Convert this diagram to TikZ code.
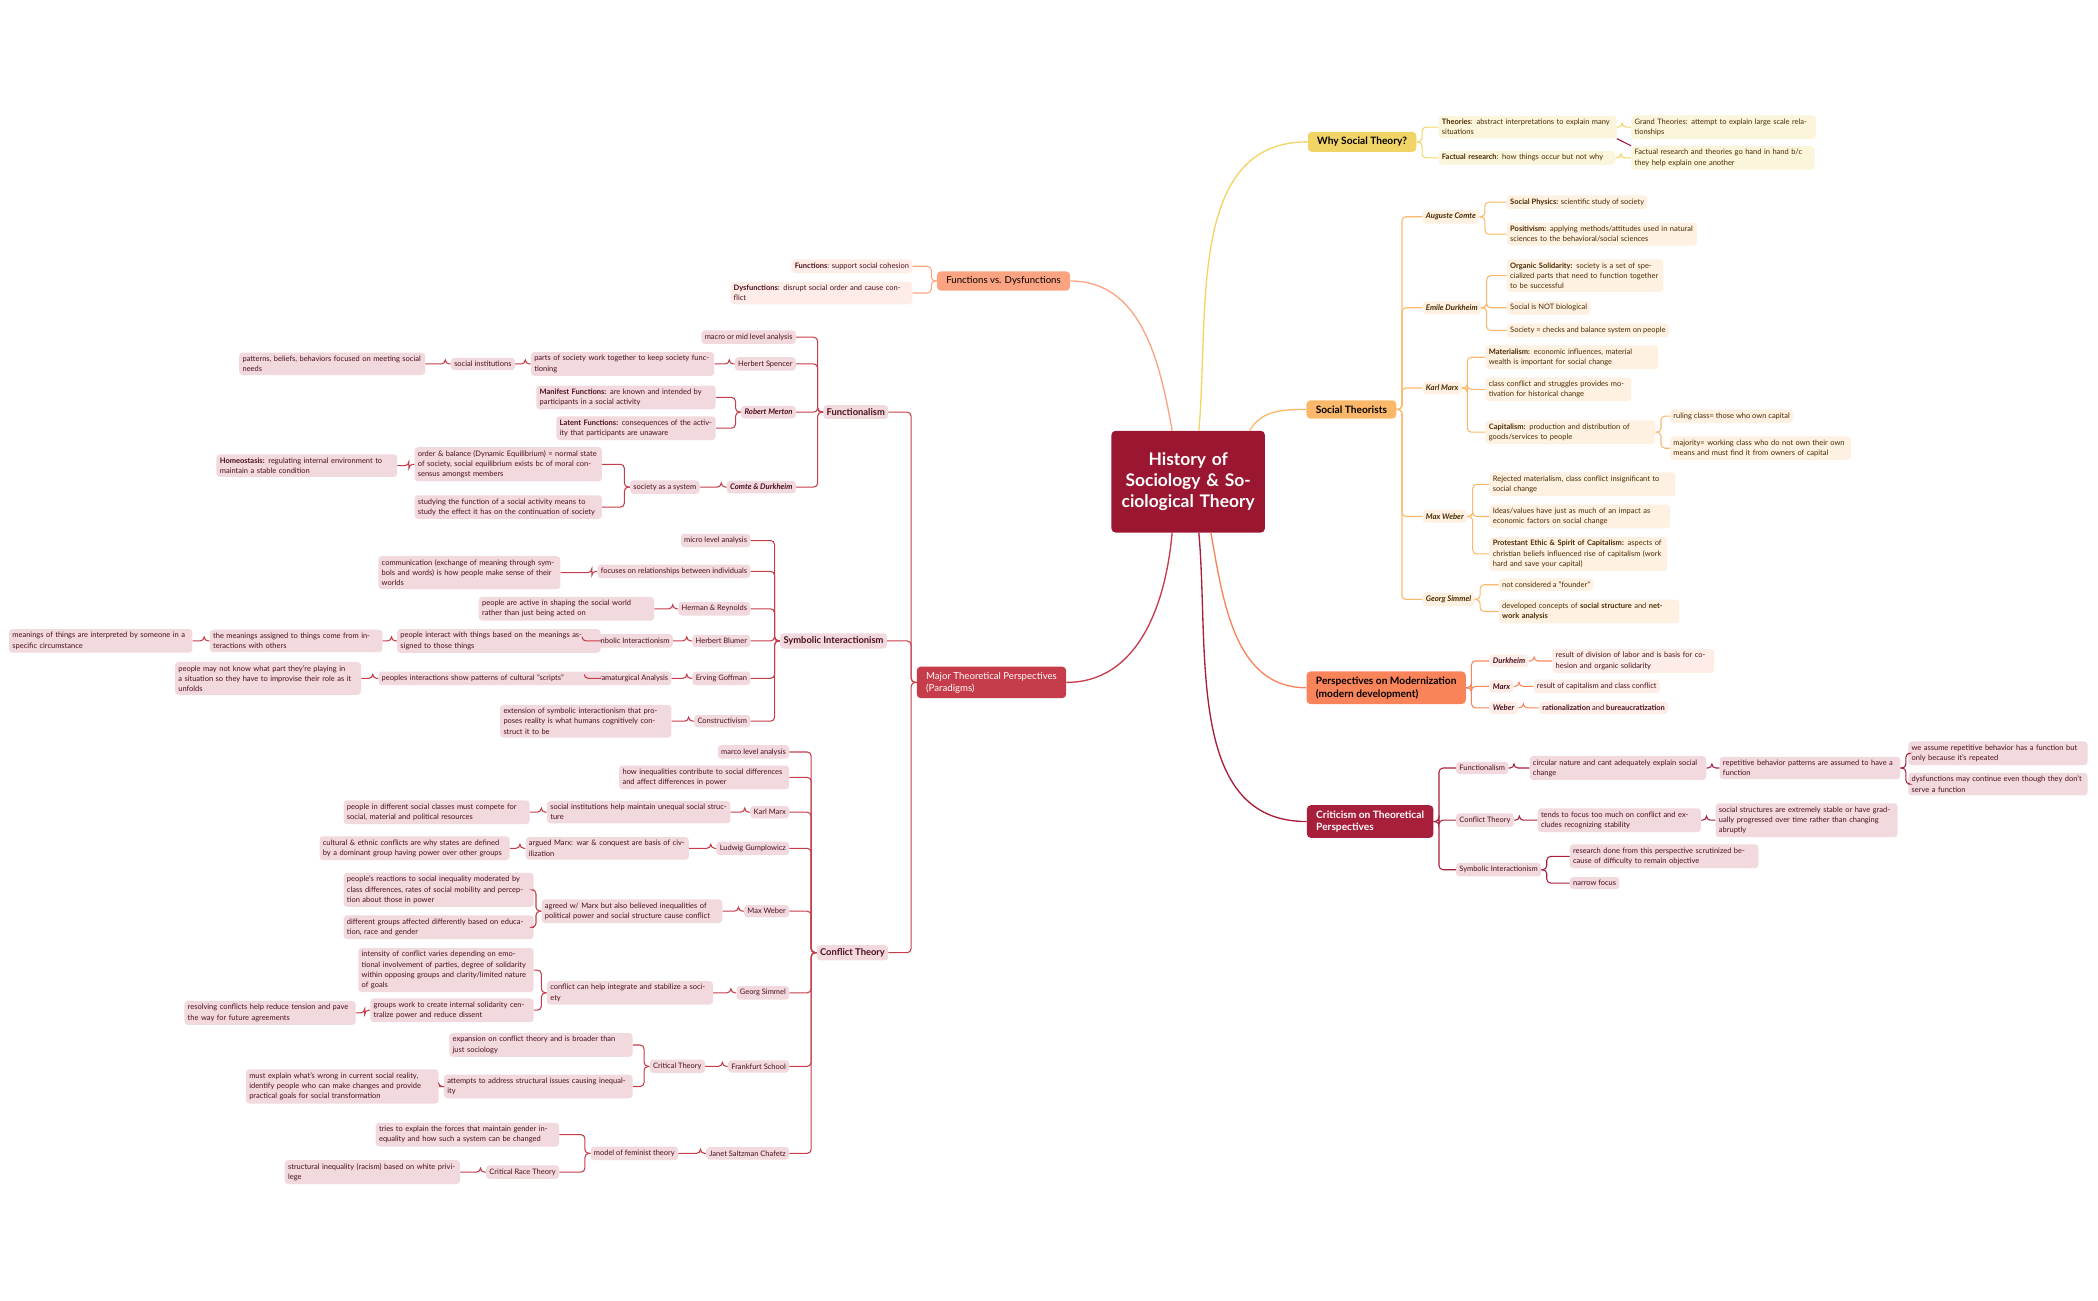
\documentclass[tikz,border=0pt]{standalone}
\usepackage{fontspec}
\setmainfont{Lato}
\usetikzlibrary{calc}
\definecolor{cR}{HTML}{C63C4B}
\definecolor{cDR}{HTML}{A81F3C}
\definecolor{cC}{HTML}{9B1631}
\definecolor{cO}{HTML}{FBB86A}
\definecolor{cM}{HTML}{F9845A}
\definecolor{cS}{HTML}{FCA482}
\definecolor{cY}{HTML}{F2D466}
\definecolor{fR}{HTML}{F2D9DD}
\definecolor{fO}{HTML}{FEF1E2}
\definecolor{fY}{HTML}{FBF5DC}
\definecolor{fS}{HTML}{FEEDE6}
\definecolor{tR}{HTML}{4A0F1C}
\definecolor{tO}{HTML}{4A2A00}
\tikzset{
 base/.style={rounded corners=2.5pt,inner sep=2.5pt,align=left,font=\fontsize{5.6}{7.6}\selectfont},
 lR/.style={base,fill=fR,text=tR},
 lO/.style={base,fill=fO,text=tO},
 lY/.style={base,fill=fY,text=tO},
 lS/.style={base,fill=fS,text=tR},
 tw/.style={text width=#1},
 sub/.style={lR,font=\fontsize{7}{9}\selectfont\bfseries},
 top/.style={rounded corners=3pt,inner xsep=7pt,inner ysep=4pt,align=left,font=\fontsize{7.6}{9.5}\selectfont\bfseries},
 cn/.style={line width=0.8pt,rounded corners=3pt},
}
\newcommand\lk[3][cR]{\draw[cn,#1] (#2.west) -- ++(-4,0) |- (#3.east);}
\newcommand\rk[3][cO]{\draw[cn,#1] (#2.east) -- ++(4,0) |- (#3.west);}
\begin{document}
\begin{tikzpicture}[x=1pt,y=-1pt]
\useasboundingbox (0,0) rectangle (1568,972);
% central
\node[fill=cC,text=white,rounded corners=3pt,text width=108,align=center,minimum height=76,font=\fontsize{13}{16}\selectfont\bfseries] (ctr) at (888,360) {History of Sociology \& Sociological Theory};
% top level
\node[top,fill=cY,text=black] (why) at (1018,106) {Why Social Theory?};
\node[top,fill=cO,text=black] (st) at (1010,306) {Social Theorists};
\node[top,fill=cM,text=black] (pm) at (1036,514) {Perspectives on Modernization\\(modern development)};
\node[top,fill=cDR,text=white] (cr) at (1024,614) {Criticism on Theoretical\\Perspectives};
\node[top,fill=cS,text=black,font=\fontsize{7.2}{9}\selectfont] (fd) at (750,210) {Functions vs. Dysfunctions};
\node[top,fill=cR,text=white,font=\fontsize{7.2}{9}\selectfont] (mt) at (741,510) {Major Theoretical Perspectives\\(Paradigms)};
\draw[cY,line width=1pt] ($(ctr.north)+(8,0)$) to[out=85,in=180] (why.west);
\draw[cO,line width=1pt] ($(ctr.north)+(46,0)$) to[out=60,in=180] (st.west);
\draw[cS,line width=1pt] ($(ctr.north)+(-12,0)$) to[out=100,in=0] (fd.east);
\draw[cM,line width=1pt] ($(ctr.south)+(17,0)$) to[out=-80,in=180] (pm.west);
\draw[cDR,line width=1pt] ($(ctr.south)+(8,0)$) to[out=-85,in=180] (cr.west);
\draw[cR,line width=1pt] ($(ctr.south)+(-12,0)$) to[out=-95,in=0] (mt.east);
% Why social theory
\node[lY,anchor=west,tw=128] (th) at (1075,95) {\textbf{Theories}: abstract interpretations to explain many situations};
\node[lY,anchor=west,tw=127] (fr) at (1075,118) {\textbf{Factual research}: how things occur but not why};
\node[lY,anchor=west,tw=133] (gt) at (1219,95) {Grand Theories: attempt to explain large scale relationships};
\node[lY,anchor=west,tw=132] (fr2) at (1219,118) {Factual research and theories go hand in hand b/c they help explain one another};
\rk[cY]{why}{th}\rk[cY]{why}{fr}\rk[cY]{th}{gt}\rk[cY]{fr}{fr2}
\draw[cC,line width=0.8pt] (th.south east) -- (fr2.north west);
% Social theorists
\node[lO,anchor=west,font=\fontsize{5.8}{7.6}\selectfont\bfseries\itshape] (ac) at (1063,162) {Auguste Comte};
\node[lO,anchor=west,font=\fontsize{5.8}{7.6}\selectfont\bfseries\itshape] (ed) at (1063,230) {Emile Durkheim};
\node[lO,anchor=west,font=\fontsize{5.8}{7.6}\selectfont\bfseries\itshape] (km) at (1063,290) {Karl Marx};
\node[lO,anchor=west,font=\fontsize{5.8}{7.6}\selectfont\bfseries\itshape] (mw) at (1063,386) {Max Weber};
\node[lO,anchor=west,font=\fontsize{5.8}{7.6}\selectfont\bfseries\itshape] (gs) at (1063,448) {Georg Simmel};
\foreach \c in {ac,ed,km,mw,gs}{\rk{st}{\c}}
\node[lO,anchor=west] (sp) at (1126,151) {\textbf{Social Physics:} scientific study of society};
\node[lO,anchor=west,tw=137] (po) at (1126,175) {\textbf{Positivism:} applying methods/attitudes used in natural sciences to the behavioral/social sciences};
\rk{ac}{sp}\rk{ac}{po}
\node[lO,anchor=west,tw=112] (os) at (1126,206) {\textbf{Organic Solidarity:} society is a set of specialized parts that need to function together to be successful};
\node[lO,anchor=west] (nb) at (1126,230) {Social is NOT biological};
\node[lO,anchor=west] (cb) at (1126,247) {Society = checks and balance system on people};
\rk{ed}{os}\rk{ed}{nb}\rk{ed}{cb}
\node[lO,anchor=west,tw=124] (ma) at (1110,267) {\textbf{Materialism:} economic influences, material wealth is important for social change};
\node[lO,anchor=west,tw=104] (cc) at (1110,291) {class conflict and struggles provides motivation for historical change};
\node[lO,anchor=west,tw=122] (ca) at (1110,323) {\textbf{Capitalism:} production and distribution of goods/services to people};
\rk{km}{ma}\rk{km}{cc}\rk{km}{ca}
\node[lO,anchor=west] (rc) at (1248,311) {ruling class= those who own capital};
\node[lO,anchor=west,tw=130] (mj) at (1248,335) {majority= working class who do not own their own means and must find it from owners of capital};
\rk{ca}{rc}\rk{ca}{mj}
\node[lO,anchor=west,tw=134] (rm) at (1113,362) {Rejected materialism, class conflict insignificant to social change};
\node[lO,anchor=west,tw=130] (iv) at (1113,386) {Ideas/values have just as much of an impact as economic factors on social change};
\node[lO,anchor=west,tw=128] (pe) at (1113,414) {\textbf{Protestant Ethic \& Spirit of Capitalism:} aspects of christian beliefs influenced rise of capitalism (work hard and save your capital)};
\rk{mw}{rm}\rk{mw}{iv}\rk{mw}{pe}
\node[lO,anchor=west] (nc) at (1120,437) {not considered a "founder"};
\node[lO,anchor=west,tw=130] (dc) at (1120,457) {developed concepts of \textbf{social structure} and \textbf{network analysis}};
\rk{gs}{nc}\rk{gs}{dc}
% Modernization
\node[lS,anchor=west,font=\fontsize{5.8}{7.6}\selectfont\bfseries\itshape] (md) at (1113,494) {Durkheim};
\node[lS,anchor=west,font=\fontsize{5.8}{7.6}\selectfont\bfseries\itshape] (mm) at (1113,513) {Marx};
\node[lS,anchor=west,font=\fontsize{5.8}{7.6}\selectfont\bfseries\itshape] (mwb) at (1113,529) {Weber};
\foreach \c in {md,mm,mwb}{\rk[cM]{pm}{\c}}
\node[lS,anchor=west,tw=116] (rd) at (1160,494) {result of division of labor and is basis for cohesion and organic solidarity};
\node[lS,anchor=west] (rcc) at (1146,513) {result of capitalism and class conflict};
\node[lS,anchor=west] (rb) at (1150,529) {\textbf{rationalization} and \textbf{bureaucratization}};
\rk[cM]{md}{rd}\rk[cM]{mm}{rcc}\rk[cM]{mwb}{rb}
% Criticism
\node[lR,anchor=west] (cf) at (1088,574) {Functionalism};
\node[lR,anchor=west] (cct) at (1088,613) {Conflict Theory};
\node[lR,anchor=west] (csi) at (1088,650) {Symbolic Interactionism};
\foreach \c in {cf,cct,csi}{\rk[cDR]{cr}{\c}}
\node[lR,anchor=west,tw=127] (cn1) at (1143,574) {circular nature and cant adequately explain social change};
\node[lR,anchor=west,tw=130] (rp) at (1285,574) {repetitive behavior patterns are assumed to have a function};
\node[lR,anchor=west,tw=129] (wa) at (1426,563) {we assume repetitive behavior has a function but only because it's repeated};
\node[lR,anchor=west,tw=129] (dm) at (1426,586) {dysfunctions may continue even though they don't serve a function};
\rk[cDR]{cf}{cn1}\rk[cDR]{cn1}{rp}\rk[cDR]{rp}{wa}\rk[cDR]{rp}{dm}
\node[lR,anchor=west,tw=117] (tf) at (1149,613) {tends to focus too much on conflict and excludes recognizing stability};
\node[lR,anchor=west,tw=131] (ss) at (1282,613) {social structures are extremely stable or have gradually progressed over time rather than changing abruptly};
\rk[cDR]{cct}{tf}\rk[cDR]{tf}{ss}
\node[lR,anchor=west,tw=136] (rd2) at (1173,640) {research done from this perspective scrutinized because of difficulty to remain objective};
\node[lR,anchor=west] (nf) at (1173,660) {narrow focus};
\rk[cDR]{csi}{rd2}\rk[cDR]{csi}{nf}
% Functions vs dysfunctions
\node[lS,anchor=east] (fn) at (682,199) {\textbf{Functions}: support social cohesion};
\node[lS,anchor=east,tw=131] (dy) at (682,219) {\textbf{Dysfunctions}: disrupt social order and cause conflict};
\lk[cS]{fd}{fn}\lk[cS]{fd}{dy}
% Major perspectives
\node[sub,anchor=east] (fu) at (664,308) {Functionalism};
\node[sub,anchor=east] (si) at (663,479) {Symbolic Interactionism};
\node[sub,anchor=east] (ct) at (664,712) {Conflict Theory};
\lk{mt}{fu}\lk{mt}{si}\lk{mt}{ct}
% Functionalism
\node[lR,anchor=east] (mm1) at (595,252) {macro or mid level analysis};
\node[lR,anchor=east] (hs) at (595,272) {Herbert Spencer};
\node[lR,anchor=east,font=\fontsize{5.8}{7.6}\selectfont\bfseries\itshape] (rmt) at (595,308) {Robert Merton};
\node[lR,anchor=east,font=\fontsize{5.8}{7.6}\selectfont\bfseries\itshape] (cdk) at (595,364) {Comte \& Durkheim};
\foreach \c in {mm1,hs,rmt,cdk}{\lk{fu}{\c}}
\node[lR,anchor=east,tw=132] (ps) at (534,272) {parts of society work together to keep society functioning};
\node[lR,anchor=east] (si1) at (385,272) {social institutions};
\node[lR,anchor=east,tw=134] (pb) at (318,272) {patterns, beliefs, behaviors focused on meeting social needs};
\lk{hs}{ps}\lk{ps}{si1}\lk{si1}{pb}
\node[lR,anchor=east,tw=129] (mf) at (535,297) {\textbf{Manifest Functions:} are known and intended by participants in a social activity};
\node[lR,anchor=east,tw=114] (lf) at (535,320) {\textbf{Latent Functions:} consequences of the activity that participants are unaware};
\lk{rmt}{mf}\lk{rmt}{lf}
\node[lR,anchor=east] (sas) at (523,364) {society as a system};
\node[lR,anchor=east,tw=135] (ob) at (450,347) {order \& balance (Dynamic Equilibrium) = normal state of society, social equilibrium exists bc of moral consensus amongst members};
\node[lR,anchor=east,tw=135] (sf) at (450,379) {studying the function of a social activity means to study the effect it has on the continuation of society};
\node[lR,anchor=east,tw=130] (ho) at (297,348) {\textbf{Homeostasis:} regulating internal environment to maintain a stable condition};
\lk{cdk}{sas}\lk{sas}{ob}\lk{sas}{sf}\lk{ob}{ho}
% Symbolic interactionism
\node[lR,anchor=east] (mi) at (561,404) {micro level analysis};
\node[lR,anchor=east] (fo) at (561,427) {focuses on relationships between individuals};
\node[lR,anchor=east] (hr) at (561,455) {Herman \& Reynolds};
\node[lR,anchor=east] (hb) at (561,479) {Herbert Blumer};
\node[lR,anchor=east] (eg) at (561,507) {Erving Goffman};
\node[lR,anchor=east] (co) at (561,539) {Constructivism};
\foreach \c in {mi,fo,hr,hb,eg,co}{\lk{si}{\c}}
\node[lR,anchor=east,tw=131] (cm) at (419,428) {communication (exchange of meaning through symbols and words) is how people make sense of their worlds};
\lk{fo}{cm}
\node[lR,anchor=east,tw=126] (pa) at (489,455) {people are active in shaping the social world rather than just being acted on};
\lk{hr}{pa}
\node[lR,anchor=east] (si2) at (503,479) {Symbolic Interactionism};
\node[lR,anchor=east,tw=147] (pi) at (449,479) {people interact with things based on the meanings assigned to those things};
\node[lR,anchor=east,tw=124] (tm) at (286,479) {the meanings assigned to things come from interactions with others};
\node[lR,anchor=east,tw=132] (mo) at (144,479) {meanings of things are interpreted by someone in a specific circumstance};
\lk{hb}{si2}\lk{si2}{pi}\lk{pi}{tm}\lk{tm}{mo}
\node[lR,anchor=east] (da) at (502,507) {Dramaturgical Analysis};
\node[lR,anchor=east,tw=161] (pp) at (449,507) {peoples interactions show patterns of cultural "scripts"};
\node[lR,anchor=east,tw=134] (pm2) at (270,507) {people may not know what part they're playing in a situation so they have to improvise their role as it unfolds};
\lk{eg}{da}\lk{da}{pp}\lk{pp}{pm2}
\node[lR,anchor=east,tw=123] (ex) at (502,539) {extension of symbolic interactionism that proposes reality is what humans cognitively construct it to be};
\lk{co}{ex}
% Conflict theory
\node[lR,anchor=east] (mla) at (590,562) {marco level analysis};
\node[lR,anchor=east,tw=122] (hi) at (590,581) {how inequalities contribute to social differences and affect differences in power};
\node[lR,anchor=east] (kmx) at (590,607) {Karl Marx};
\node[lR,anchor=east] (lg) at (590,634) {Ludwig Gumplowicz};
\node[lR,anchor=east] (mwe) at (590,681) {Max Weber};
\node[lR,anchor=east] (gsm) at (590,742) {Georg Simmel};
\node[lR,anchor=east] (fs) at (590,797) {Frankfurt School};
\node[lR,anchor=east] (jc) at (590,862) {Janet Saltzman Chafetz};
\foreach \c in {mla,hi,kmx,lg,mwe,gsm,fs,jc}{\lk{ct}{\c}}
\node[lR,anchor=east,tw=132] (sim) at (546,607) {social institutions help maintain unequal social structure};
\node[lR,anchor=east,tw=134] (pdc) at (396,607) {people in different social classes must compete for social, material and political resources};
\lk{kmx}{sim}\lk{sim}{pdc}
\node[lR,anchor=east,tw=117] (am) at (515,634) {argued Marx: war \& conquest are basis of civilization};
\node[lR,anchor=east,tw=137] (ce) at (381,634) {cultural \& ethnic conflicts are why states are defined by a dominant group having power over other groups};
\lk{lg}{am}\lk{am}{ce}
\node[lR,anchor=east,tw=130] (aw) at (540,681) {agreed w/ Marx but also believed inequalities of political power and social structure cause conflict};
\node[lR,anchor=east,tw=137] (pr) at (399,665) {people's reactions to social inequality moderated by class differences, rates of social mobility and perception about those in power};
\node[lR,anchor=east,tw=137] (dg) at (399,693) {different groups affected differently based on education, race and gender};
\lk{mwe}{aw}\lk{aw}{pr}\lk{aw}{dg}
\node[lR,anchor=east,tw=119] (chi) at (533,742) {conflict can help integrate and stabilize a society};
\node[lR,anchor=east,tw=126] (ic) at (399,725) {intensity of conflict varies depending on emotional involvement of parties, degree of solidarity within opposing groups and clarity/limited nature of goals};
\node[lR,anchor=east,tw=117] (gw) at (399,755) {groups work to create internal solidarity centralize power and reduce dissent};
\node[lR,anchor=east,tw=123] (rcf) at (266,757) {resolving conflicts help reduce tension and pave the way for future agreements};
\lk{gsm}{chi}\lk{chi}{ic}\lk{chi}{gw}\lk{gw}{rcf}
\node[lR,anchor=east] (crt) at (527,797) {Critical Theory};
\node[lR,anchor=east,tw=132] (ex2) at (473,781) {expansion on conflict theory and is broader than just sociology};
\node[lR,anchor=east,tw=136] (at) at (473,812) {attempts to address structural issues causing inequality};
\node[lR,anchor=east,tw=139] (me) at (328,812) {must explain what's wrong in current social reality, identify people who can make changes and provide practical goals for social transformation};
\lk{fs}{crt}\lk{crt}{ex2}\lk{crt}{at}\lk{at}{me}
\node[lR,anchor=east] (mft) at (507,862) {model of feminist theory};
\node[lR,anchor=east,tw=132] (te) at (418,848) {tries to explain the forces that maintain gender inequality and how such a system can be changed};
\node[lR,anchor=east] (crt2) at (418,876) {Critical Race Theory};
\node[lR,anchor=east,tw=126] (si3) at (344,876) {structural inequality (racism) based on white privilege};
\lk{jc}{mft}\lk{mft}{te}\lk{mft}{crt2}\lk{crt2}{si3}
\end{tikzpicture}
\end{document}
